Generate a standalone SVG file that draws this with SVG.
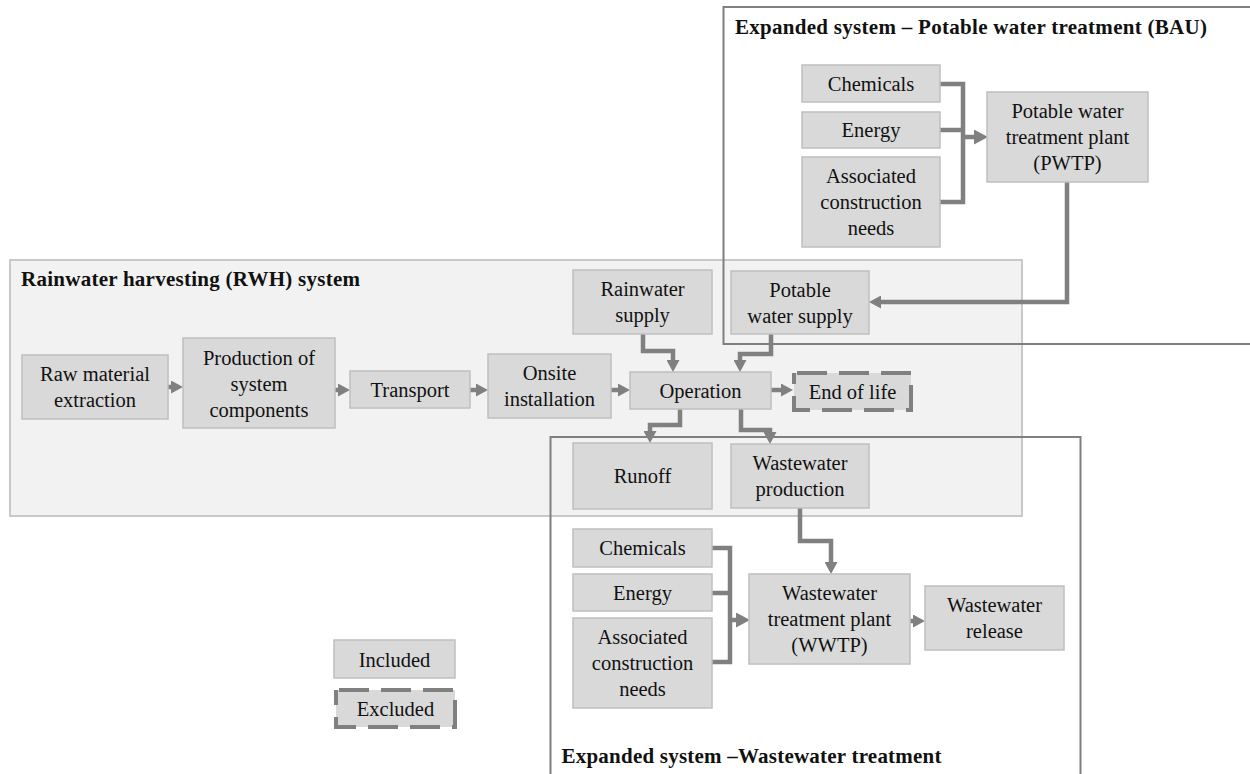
<svg xmlns="http://www.w3.org/2000/svg" width="1250" height="774" viewBox="0 0 1250 774">
<style>
.node{fill:#d9d9d9;stroke:#bfbfbf;stroke-width:1.5}
.excl{fill:#d9d9d9;stroke:#808080;stroke-width:4;stroke-dasharray:30 12;stroke-dashoffset:-3}
.lbl{font-family:"Liberation Serif","Times New Roman",serif;font-size:20.5px;fill:#111;text-anchor:middle}
.title{font-family:"Liberation Serif","Times New Roman",serif;font-size:21px;font-weight:bold;fill:#111}
.conn{fill:none;stroke:#808080;stroke-width:4.5;stroke-linejoin:miter;stroke-linecap:butt}
.frame{fill:none;stroke:#7f7f7f;stroke-width:2}
</style>
<defs>
<marker id="ah" markerUnits="userSpaceOnUse" markerWidth="12" markerHeight="13" refX="6" refY="6.5" orient="auto">
<path d="M0,0 L12,6.5 L0,13 z" fill="#808080"/>
</marker>
<marker id="ahb" markerUnits="userSpaceOnUse" markerWidth="14" markerHeight="15" refX="7" refY="7.5" orient="auto">
<path d="M0,0 L14,7.5 L0,15 z" fill="#808080"/>
</marker>
</defs>
<rect width="1250" height="774" fill="#ffffff"/>

<g id="rwh-system">
<rect x="10" y="260" width="1012" height="256" fill="#f2f2f2" stroke="#c9c9c9" stroke-width="2"/>
<text class="title" x="21" y="286" textLength="339" lengthAdjust="spacing">Rainwater harvesting (RWH) system</text>
</g>
<g id="expanded-potable">
<rect class="frame" x="723.5" y="7" width="540" height="337"/>
<text class="title" x="735" y="34" textLength="472" lengthAdjust="spacing">Expanded system – Potable water treatment (BAU)</text>
</g>
<g id="expanded-wastewater">
<rect class="frame" x="550.5" y="437" width="530" height="345"/>
<text class="title" x="561.5" y="762.5" textLength="380" lengthAdjust="spacing">Expanded system –Wastewater treatment</text>
</g>

<g id="connectors">
<path class="conn" d="M940,84 H963 V202 H940"/>
<path class="conn" d="M940,130 H963"/>
<path class="conn" d="M962,137 H981" stroke-width="7" marker-end="url(#ahb)"/>
<path class="conn" d="M1067,182 V302 H875" marker-end="url(#ah)"/>
<path class="conn" d="M643,334 V351 H673 V366" marker-end="url(#ah)"/>
<path class="conn" d="M771,334 V354 H740 V366" marker-end="url(#ah)"/>
<path class="conn" d="M680,409 V425 H650 V437" marker-end="url(#ah)"/>
<path class="conn" d="M741,409 V430 H770 V438" marker-end="url(#ah)"/>
<path class="conn" d="M800,508 V541 H831 V568" marker-end="url(#ah)"/>
<path class="conn" d="M712,548 H730 V662 H712"/>
<path class="conn" d="M712,593 H730"/>
<path class="conn" d="M729,620 H743" stroke-width="6" marker-end="url(#ahb)"/>
<path class="conn" d="M910,621 H919" marker-end="url(#ah)"/>
<path class="conn" d="M168,387 H177" marker-end="url(#ah)"/>
<path class="conn" d="M335,390 H344" marker-end="url(#ah)"/>
<path class="conn" d="M470,390 H482" marker-end="url(#ah)"/>
<path class="conn" d="M611,390 H624" marker-end="url(#ah)"/>
<path class="conn" d="M771,390 H787" marker-end="url(#ah)"/>
</g>

<g id="p-chemicals"><rect class="node" x="802" y="65" width="138" height="37"/><text class="lbl" x="871" y="90.5">Chemicals</text></g>
<g id="p-energy"><rect class="node" x="802" y="112" width="138" height="36"/><text class="lbl" x="871" y="137">Energy</text></g>
<g id="p-assoc"><rect class="node" x="802" y="157" width="138" height="90"/><text class="lbl" x="871" y="183">Associated</text><text class="lbl" x="871" y="209">construction</text><text class="lbl" x="871" y="235">needs</text></g>
<g id="pwtp"><rect class="node" x="987" y="92" width="161" height="90"/><text class="lbl" x="1067.5" y="118">Potable water</text><text class="lbl" x="1067.5" y="144">treatment plant</text><text class="lbl" x="1067.5" y="170">(PWTP)</text></g>

<g id="raw"><rect class="node" x="22" y="355" width="146" height="64"/><text class="lbl" x="95" y="381">Raw material</text><text class="lbl" x="95" y="407">extraction</text></g>
<g id="production"><rect class="node" x="183" y="338" width="152" height="90"/><text class="lbl" x="259" y="365">Production of</text><text class="lbl" x="259" y="391">system</text><text class="lbl" x="259" y="417">components</text></g>
<g id="transport"><rect class="node" x="350" y="371" width="120" height="37"/><text class="lbl" x="410" y="397">Transport</text></g>
<g id="onsite"><rect class="node" x="488" y="354" width="123" height="64"/><text class="lbl" x="549.5" y="380">Onsite</text><text class="lbl" x="549.5" y="406">installation</text></g>
<g id="rainwater-supply"><rect class="node" x="573" y="270" width="139" height="64"/><text class="lbl" x="642.5" y="296">Rainwater</text><text class="lbl" x="642.5" y="322">supply</text></g>
<g id="potable-supply"><rect class="node" x="731" y="271" width="138" height="63"/><text class="lbl" x="800" y="296.5">Potable</text><text class="lbl" x="800" y="322.5">water supply</text></g>
<g id="operation"><rect class="node" x="630" y="372" width="141" height="37"/><text class="lbl" x="700.5" y="398">Operation</text></g>
<g id="end-of-life"><rect class="excl" x="794" y="373" width="117" height="37"/><text class="lbl" x="852.5" y="399">End of life</text></g>
<g id="runoff"><rect class="node" x="573" y="443" width="139" height="66"/><text class="lbl" x="642.5" y="483">Runoff</text></g>
<g id="ww-production"><rect class="node" x="731" y="444" width="138" height="64"/><text class="lbl" x="800" y="470">Wastewater</text><text class="lbl" x="800" y="496">production</text></g>

<g id="w-chemicals"><rect class="node" x="573" y="529" width="139" height="38"/><text class="lbl" x="642.5" y="555">Chemicals</text></g>
<g id="w-energy"><rect class="node" x="573" y="574" width="139" height="37"/><text class="lbl" x="642.5" y="599.5">Energy</text></g>
<g id="w-assoc"><rect class="node" x="573" y="618" width="139" height="90"/><text class="lbl" x="642.5" y="644">Associated</text><text class="lbl" x="642.5" y="670">construction</text><text class="lbl" x="642.5" y="696">needs</text></g>
<g id="wwtp"><rect class="node" x="749" y="574" width="161" height="90"/><text class="lbl" x="829.5" y="600">Wastewater</text><text class="lbl" x="829.5" y="626">treatment plant</text><text class="lbl" x="829.5" y="652">(WWTP)</text></g>
<g id="ww-release"><rect class="node" x="925" y="586" width="139" height="64"/><text class="lbl" x="994.5" y="612">Wastewater</text><text class="lbl" x="994.5" y="638">release</text></g>

<g id="legend-included"><rect class="node" x="334" y="640" width="121" height="38"/><text class="lbl" x="394.5" y="666.5">Included</text></g>
<g id="legend-excluded"><rect class="excl" x="336" y="690" width="119" height="37"/><text class="lbl" x="395.5" y="716">Excluded</text></g>
</svg>
